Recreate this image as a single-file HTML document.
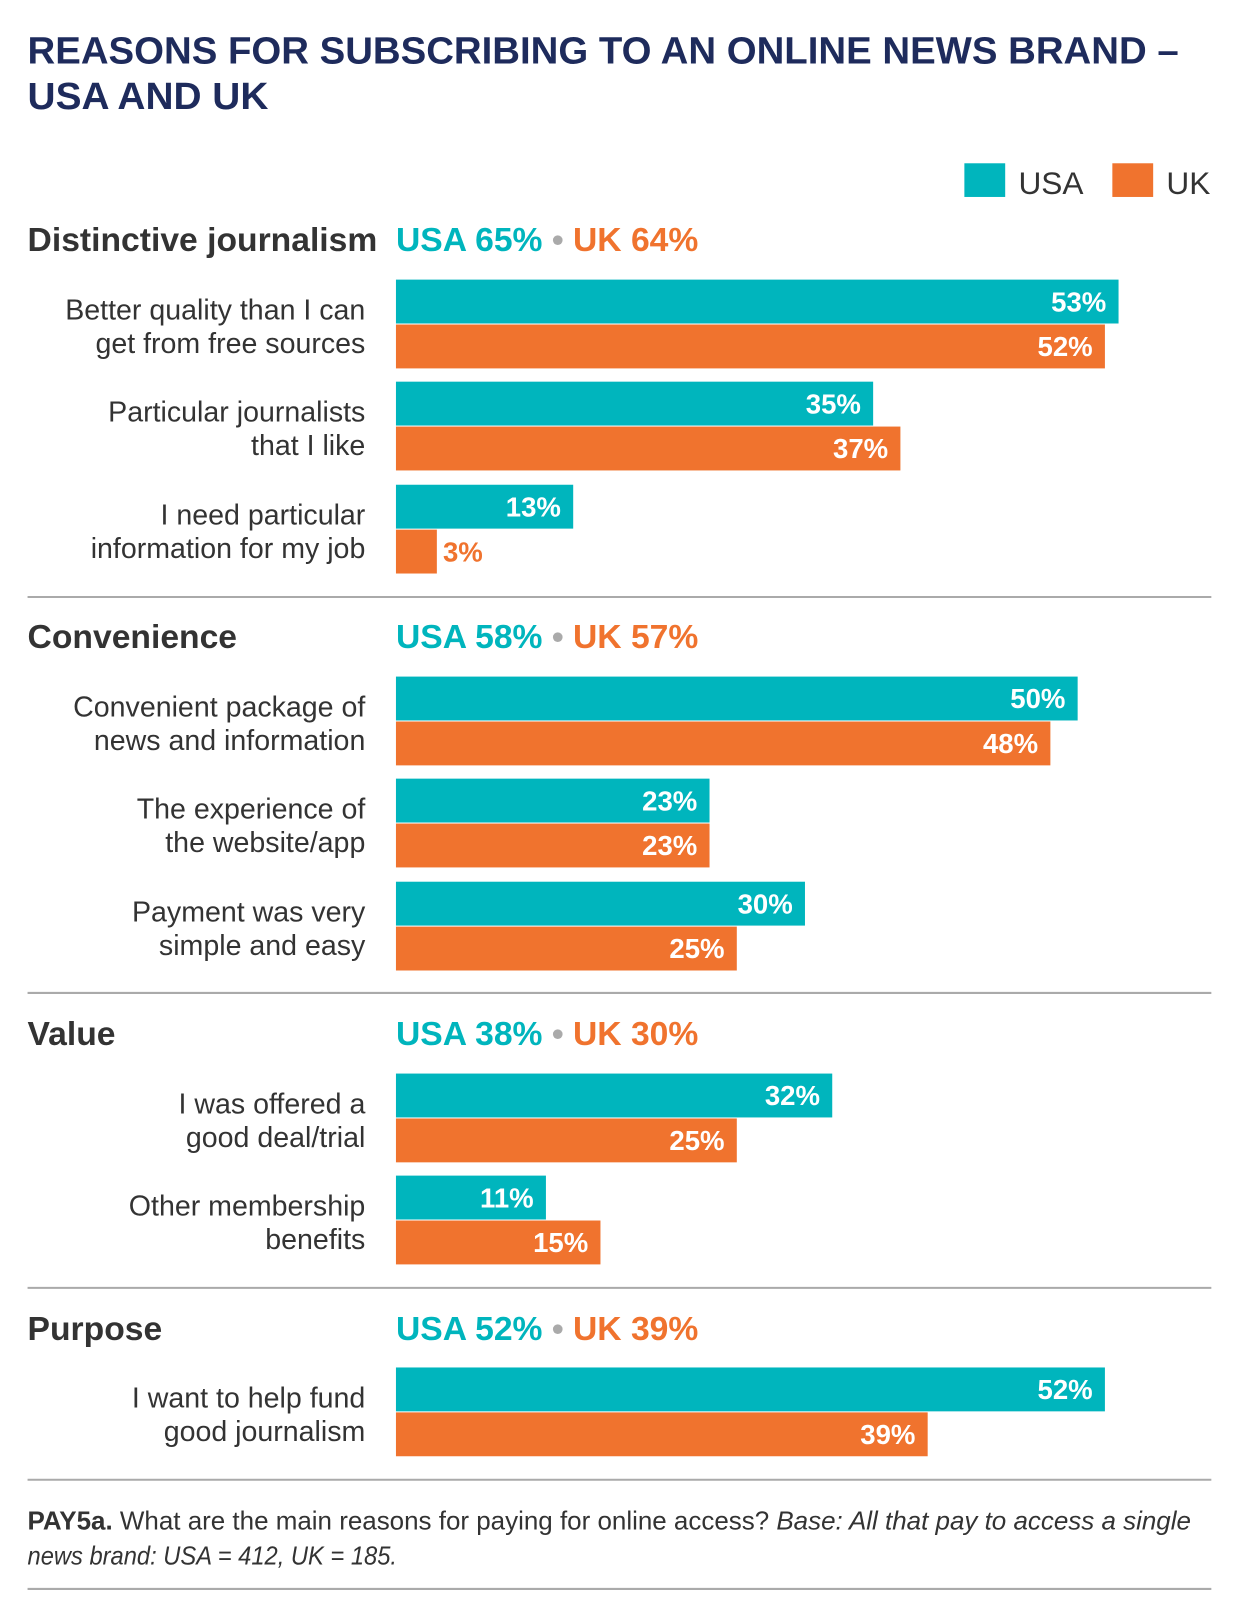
<!DOCTYPE html>
<html><head><meta charset="utf-8"><style>
html,body{margin:0;padding:0;background:#fff;}
svg{display:block;font-family:"Liberation Sans",sans-serif;}
</style></head><body>
<svg id="chart" width="1245" height="1600" viewBox="0 0 1245 1600" xmlns="http://www.w3.org/2000/svg">
<g transform="scale(1.0205)">
<text x="27" y="62" font-size="37" font-weight="bold" fill="#1e2b5c" textLength="1128" lengthAdjust="spacingAndGlyphs">REASONS FOR SUBSCRIBING TO AN ONLINE NEWS BRAND –</text>
<text x="27" y="107" font-size="37" font-weight="bold" fill="#1e2b5c" textLength="236" lengthAdjust="spacingAndGlyphs">USA AND UK</text>
<rect x="945" y="160" width="40" height="33" fill="#00b5bd"/>
<text x="998" y="190" font-size="31" fill="#333">USA</text>
<rect x="1090" y="160" width="40" height="33" fill="#f0732e"/>
<text x="1143" y="190" font-size="31" fill="#333">UK</text>
<g id="bars"></g>
<line x1="27" y1="1450" x2="1187" y2="1450" stroke="#aaa" stroke-width="2"/>
<text x="27" y="1499" font-size="25" fill="#333" textLength="1140" lengthAdjust="spacingAndGlyphs"><tspan font-weight="bold">PAY5a.</tspan> What are the main reasons for paying for online access? <tspan font-style="italic">Base: All that pay to access a single</tspan></text>
<text x="27" y="1533" font-size="25" fill="#333" font-style="italic" textLength="362" lengthAdjust="spacingAndGlyphs">news brand: USA = 412, UK = 185.</text>
<line x1="27" y1="1557" x2="1187" y2="1557" stroke="#aaa" stroke-width="2"/>
</g>
</svg>
<script>
const groupNames = ["Distinctive journalism","Convenience","Value","Purpose"];
const groupUSA = [65,58,38,52];
const groupUK = [64,57,30,39];
const categories = [
 ["Better quality than I can","get from free sources"],
 ["Particular journalists","that I like"],
 ["I need particular","information for my job"],
 ["Convenient package of","news and information"],
 ["The experience of","the website/app"],
 ["Payment was very","simple and easy"],
 ["I was offered a","good deal/trial"],
 ["Other membership","benefits"],
 ["I want to help fund","good journalism"]
];
const categoryGroup = [0,0,0,1,1,1,2,2,3];
const usaValues = [53,35,13,50,23,30,32,11,52];
const ukValues = [52,37,3,48,23,25,25,15,39];

const NS="http://www.w3.org/2000/svg";
const g=document.getElementById('bars');
const TEAL="#00b5bd", ORANGE="#f0732e";
const x0=388, pxPer=13.36;
function xScale(v){return x0+v*pxPer;}
function mk(tag,attrs,txt){const e=document.createElementNS(NS,tag);for(const k in attrs)e.setAttribute(k,attrs[k]);if(txt!==undefined)e.textContent=txt;g.appendChild(e);return e;}
const groupHeaderY=[246,635,1024,1313];
const sepY=[585,973,1262];
const rowTop=[274,374,475,663,763,864,1052,1152,1340];
groupNames.forEach((n,i)=>{
  const y=groupHeaderY[i];
  let t=mk('text',{x:27,y:y,'font-size':33,'font-weight':'bold',fill:'#333'},n);
  
  
  const tx=mk('text',{x:388,y:y,'font-size':33,'font-weight':'bold'});
  
  
  const s1=document.createElementNS(NS,'tspan');s1.setAttribute('fill',TEAL);s1.textContent="USA "+groupUSA[i]+"%";tx.appendChild(s1);
  const s2=document.createElementNS(NS,'tspan');s2.setAttribute('fill','#aaa');s2.textContent=" • ";tx.appendChild(s2);
  const s3=document.createElementNS(NS,'tspan');s3.setAttribute('fill',ORANGE);s3.textContent="UK "+groupUK[i]+"%";tx.appendChild(s3);
  if(i<3){
    const l=mk('line',{x1:27,y1:sepY[i],x2:1187,y2:sepY[i],stroke:'#aaa','stroke-width':2});
    
    
  }
});
categories.forEach((c,i)=>{
  const top=rowTop[i];
  c.forEach((line,j)=>{
    const t=mk('text',{x:358,y:top+39+j*33,'font-size':28,fill:'#333','text-anchor':'end'},line);
    
    
  });
  [[usaValues[i],TEAL,0,'usa'],[ukValues[i],ORANGE,44,'uk']].forEach(([v,col,off,key])=>{
    const w=xScale(v)-x0;
    const r=mk('rect',{x:x0,y:top+off,width:w,height:43,fill:col});
    
    
    const inside=w>70;
    const lab=mk('text',{x:inside?xScale(v)-12:xScale(v)+6,y:top+off+31,'font-size':27,'font-weight':'bold',fill:inside?'#fff':col,'text-anchor':inside?'end':'start'},v+"%");
    
    
  });
});
</script>
</body></html>
